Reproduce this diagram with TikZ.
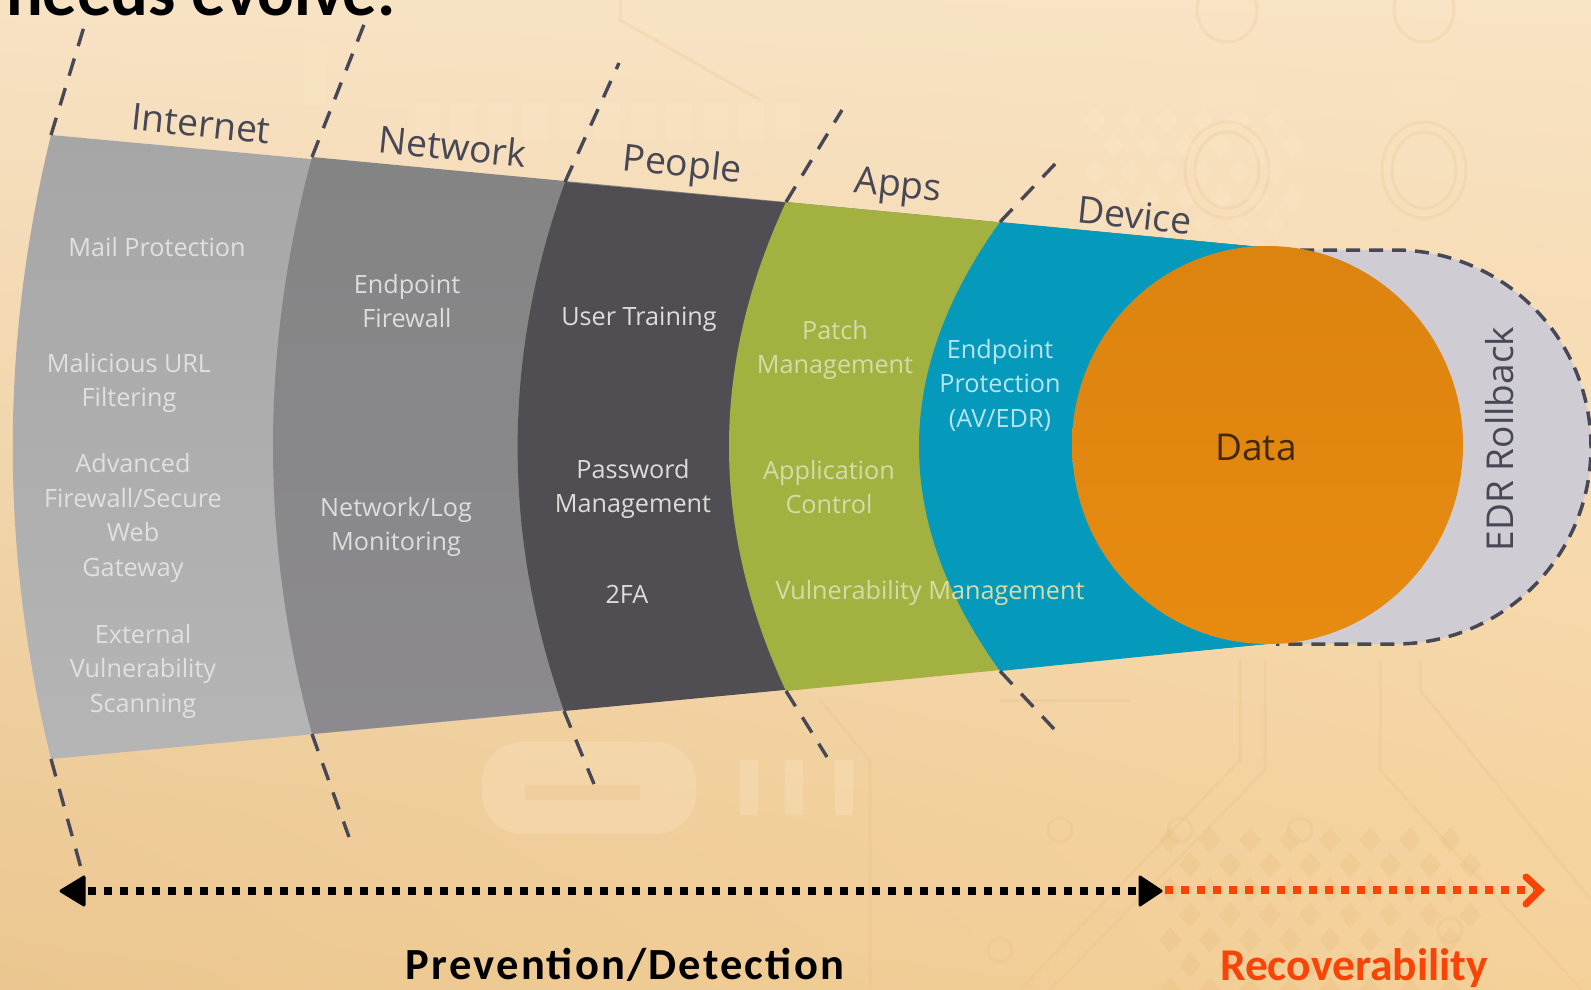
\documentclass[tikz,border=0pt]{standalone}
\usepackage{fontspec}
\setmainfont{Open Sans}
\newfontfamily\carl{Carlito}
\usetikzlibrary{shapes.geometric,shadings}
\definecolor{bandAt}{HTML}{A6A6A7}
\definecolor{bandAb}{HTML}{B5B5B6}
\definecolor{bandBt}{HTML}{848484}
\definecolor{bandBb}{HTML}{8C8A8F}
\definecolor{bandA}{HTML}{ADADAE}
\definecolor{bandB}{HTML}{868487}
\definecolor{bandC}{HTML}{504E53}
\definecolor{bandD}{HTML}{A2B13F}
\definecolor{bandE}{HTML}{059ABC}
\definecolor{dataT}{HTML}{DC8410}
\definecolor{dataB}{HTML}{E78A10}
\definecolor{dataC}{HTML}{E0860F}
\definecolor{edrC}{HTML}{CFCCD3}
\definecolor{dashC}{HTML}{484755}
\definecolor{redC}{HTML}{FA4407}
\definecolor{traceC}{HTML}{E2B878}
\definecolor{lightC}{HTML}{FBE8C8}
\definecolor{bgUL}{RGB}{247,226,196}
\definecolor{bgUR}{RGB}{248,227,196}
\definecolor{bgLL}{RGB}{235,198,143}
\definecolor{bgLR}{RGB}{245,209,154}
\tikzset{
 x=1pt,y=-1pt,
 bandline/.style={draw=dashC,line width=3.4pt,dash pattern=on 18pt off 13pt},
 bandname/.style={font=\fontsize{37.3}{37.3}\selectfont,text=dashC,rotate=-6,inner sep=0pt},
 smalltext/.style={font=\fontsize{25.2}{34.5}\selectfont,align=center,inner sep=0pt},
 faint/.style={draw=traceC,opacity=.18,line width=3pt},
 faintfill/.style={fill=traceC,opacity=.22},
 lightfill/.style={fill=lightC,opacity=.28},
 dotline/.style={line width=8pt,dash pattern=on 8pt off 8pt},
}
\begin{document}
\begin{tikzpicture}
\useasboundingbox (0,0) rectangle (1591,989);
\clip (0,0) rectangle (1591,989);
% background
\shade[upper left=bgUL,upper right=bgUR,lower left=bgLL,lower right=bgLR]
  (0,0) rectangle (1591,989);
% faint circuit artwork
\foreach \cx in {1227,1424}{
  \draw[faint] (\cx,170) ellipse[x radius=42,y radius=48];
  \draw[faint] (\cx,170) ellipse[x radius=32,y radius=38];
  \draw[faint] (\cx,10) ellipse[x radius=30,y radius=32];
  \fill[lightfill] (\cx-28,82) rectangle (\cx+28,100);
}
\foreach \i in {0,...,10}{\fill[lightfill] (415+36*\i,103) rectangle (440+36*\i,140);}
\fill[lightfill] (305,45) rectangle (325,105);
\fill[lightfill,rounded corners=40] (482,742) rectangle (696,834);
\fill[faintfill] (525,785) rectangle (640,800);
\foreach \x in {740,785,835}{\fill[lightfill] (\x,760) rectangle (\x+18,815);}
\foreach \r in {0,...,6}{\foreach \c in {0,...,7}{
  \pgfmathsetmacro{\px}{1170+40*\c+20*mod(\r,2)}
  \pgfmathsetmacro{\py}{840+25*\r}
  \fill[faintfill] (\px,\py-13) -- (\px+11,\py) -- (\px,\py+13) -- (\px-11,\py) -- cycle;
}}
\foreach \r in {0,...,5}{\foreach \c in {0,...,5}{
  \pgfmathsetmacro{\px}{1095+36*\c+18*mod(\r,2)}
  \pgfmathsetmacro{\py}{120+26*\r}
  \fill[lightfill] (\px,\py-13) -- (\px+11,\py) -- (\px,\py+13) -- (\px-11,\py) -- cycle;
}}
\draw[faint] (1265,660) -- (1265,770) -- (1040,1000);
\draw[faint] (1240,660) -- (1240,760) -- (1020,990);
\draw[faint] (1380,660) -- (1380,770) -- (1591,1000);
\draw[faint] (1420,660) -- (1420,690) -- (1591,900);
\draw[faint] (820,700) -- (870,760) -- (870,989);
\draw[faint] (1000,700) -- (1130,700);
\draw[faint] (620,0) -- (620,20) -- (760,100);
\foreach \x/\y in {1060/830,1180/830,1300/830,1450/930,1000/950}{\draw[faint] (\x,\y) circle[radius=12];}
% EDR rollback
\fill[edrC] (1268,250) -- (1395,250) .. controls (1503,250) and (1591,338) .. (1591,447)
  .. controls (1591,556) and (1503,644) .. (1395,644) -- (1268,644) -- cycle;
\coordinate (edrstart) at (1300,250);
\coordinate (edrend) at (1276,644);
\draw[draw=dashC,line width=3.5pt,dash pattern=on 14pt off 9pt]
  (edrstart) -- (1395,250) .. controls (1503,250) and (1591,338) .. (1591,447)
  .. controls (1591,556) and (1503,644) .. (1395,644) -- (edrend);
% bands, back to front
\shade[top color=bandAt,bottom color=bandAb] (51,135) .. controls (0,343) and (0,551) .. (51,759) -- (1276,643) -- (1260,247) -- cycle;
\shade[top color=bandBt,bottom color=bandBb] (312,157) .. controls (260,350) and (260,542) .. (312,734) -- (1276,643) -- (1260,247) -- cycle;
\fill[bandC] (565,182) .. controls (502,358) and (502,535) .. (564,711) -- (1276,643) -- (1260,247) -- cycle;
\fill[bandD] (786,202) .. controls (710,365) and (710,528) .. (786,691) -- (1276,643) -- (1260,247) -- cycle;
\fill[bandE] (1000,222) .. controls (892,372) and (892,521) .. (1000,671) -- (1276,643) -- (1260,247) -- cycle;
\node[ellipse,top color=dataT,bottom color=dataB,minimum width=391pt,minimum height=398pt,inner sep=0pt] (datacircle) at (1267.5,445) {};
% boundary dashes
\coordinate (ta) at (51,135);  \coordinate (tae) at (87,17);
\coordinate (tb) at (312,157); \coordinate (tbe) at (365,22);
\coordinate (tc) at (565,182); \coordinate (tce) at (619,63);
\coordinate (td) at (786,202); \coordinate (tde) at (842,110);
\coordinate (te) at (1000,222);\coordinate (tee) at (1056,163);
\coordinate (ba) at (51,759);  \coordinate (bae) at (84,879);
\coordinate (bb) at (312,734); \coordinate (bbe) at (349,837);
\coordinate (bc) at (564,711); \coordinate (bce) at (594,784);
\coordinate (bd) at (786,691); \coordinate (bde) at (827,757);
\coordinate (be) at (1000,671);\coordinate (bee) at (1054,729);
\foreach \p/\q in {ta/tae,tb/tbe,tc/tce,td/tde,te/tee,ba/bae,bb/bbe,bc/bce,bd/bde,be/bee}{\draw[bandline] (\p) -- (\q);}
% band names
\node[bandname] (nInternet) at (201,124) {Internet};
\node[bandname] (nNetwork) at (453,146) {Network};
\node[bandname] (nPeople) at (682,167) {People};
\node[bandname] (nApps) at (898,188) {Apps};
\node[bandname] (nDevice) at (1135,215) {Device};
% band texts
\begin{scope}[every node/.style={smalltext,text=white!62!bandA}]
\node (a1) at (157,247) {Mail Protection};
\node (a2) at (129,383) {Malicious URL\\Filtering};
\node (a3) at (133,518) {Advanced\\Firewall/Secure\\Web\\Gateway};
\node (a4) at (143,671) {External\\Vulnerability\\Scanning};
\end{scope}
\begin{scope}[every node/.style={smalltext,text=white!72!bandB}]
\node (b1) at (407,301) {Endpoint\\Firewall};
\node (b2) at (396,527) {Network/Log\\Monitoring};
\end{scope}
\begin{scope}[every node/.style={smalltext,text=white!80!bandC}]
\node (c1) at (639,319) {User Training};
\node (c2) at (633,489) {Password\\Management};
\node (c3) at (627,594) {2FA};
\end{scope}
\begin{scope}[every node/.style={smalltext,text=white!55!bandD}]
\node (d1) at (835,350) {Patch\\Management};
\node (d2) at (829,487) {Application\\Control};
\node (d3) at (930,593) {Vulnerability Management};
\end{scope}
\node[smalltext,text=white!72!bandE] (e1) at (1000,385) {Endpoint\\Protection\\(AV/EDR)};
\node[font=\fontsize{37}{37}\selectfont,text=black!70!dataC,inner sep=0pt] (dataT) at (1256,447) {Data};
\node[font=\fontsize{37}{37}\selectfont,text=dashC,rotate=90,inner sep=0pt] (edrT) at (1500,439) {EDR Rollback};
% headline, cut by the top edge
\node[anchor=base west,inner sep=0pt,font=\carl\bfseries\fontsize{68.5}{68.5}\selectfont,text=black] (head) at (6,15) {needs evolve.};
% timeline
\coordinate (lt) at (61,891);
\coordinate (mt) at (1161,891);
\coordinate (rt) at (1540,890);
\draw[dotline,draw=black] (88,891) -- (1136,891);
\draw[dotline,draw=redC] (1165,890) -- (1534,890);
\fill[black,draw=black,line width=3pt,line join=round] (lt) -- (84,877) -- (84,905) -- cycle;
\fill[black,draw=black,line width=3pt,line join=round] (mt) -- (1140,877) -- (1140,905) -- cycle;
\draw[redC,line width=7pt,line cap=round,line join=miter] (1526,877) -- (rt) -- (1526,904);
\node[anchor=base,inner sep=0pt,font=\carl\bfseries\fontsize{44.5}{44.5}\selectfont,text=black] (prev) at (625,979) {\addfontfeature{LetterSpace=5}Prevention/Detection};
\node[anchor=base,inner sep=0pt,font=\carl\bfseries\fontsize{45.5}{45.5}\selectfont,text=redC] (rec) at (1354,980) {Recoverability};
\end{tikzpicture}
\end{document}
